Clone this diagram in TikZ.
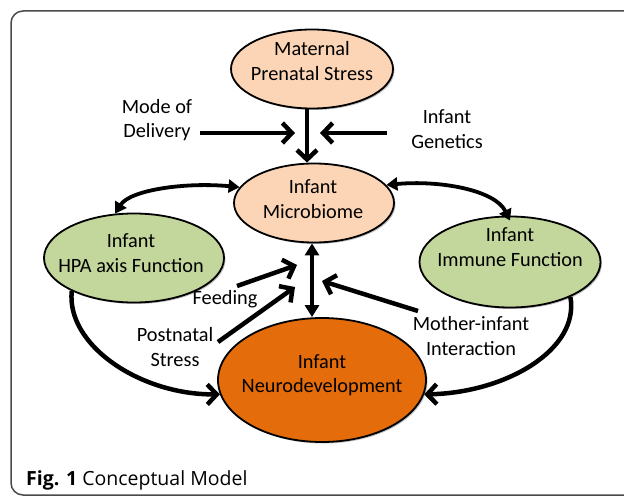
\documentclass[tikz,border=0pt]{standalone}
\usepackage{fontspec}
\setmainfont{Carlito}
\newfontfamily\capfont{Open Sans}
\usetikzlibrary{arrows.meta,shapes.geometric,shadows}
\definecolor{peach}{HTML}{FBD5B5}
\definecolor{olive}{HTML}{C3D69B}
\definecolor{orangeN}{HTML}{E46C0A}
\definecolor{framec}{HTML}{4A4A4A}
\tikzset{
  ell/.style={ellipse, draw=black, line width=1.8bp, inner sep=0pt,
    drop shadow={shadow xshift=1.5bp, shadow yshift=-1.5bp, fill=black, opacity=0.25}},
  txt/.style={font=\fontsize{20.3bp}{24.5bp}\selectfont, align=center, inner sep=1bp},
  barb/.style={line width=4.5bp, -{Straight Barb[length=9.5bp,width=20bp]}},
  tritwo/.style={line width=4bp, {Triangle[length=12bp,width=14bp]}-{Triangle[length=12bp,width=14bp]}},
  curvetwo/.style={line width=3.8bp, {Triangle[length=11bp,width=13bp]}-{Triangle[length=11bp,width=13bp]}},
}
\begin{document}
\begin{tikzpicture}[x=1bp,y=-1bp]
\useasboundingbox (0,0) rectangle (624,498);
\clip (0,0) rectangle (624,498);
% frame
\draw[framec, line width=1.5bp, rounded corners=12bp] (11,11) rectangle (660,495);
% ellipses
\node[ell, fill=peach, minimum width=162bp, minimum height=79bp] (mps) at (312,69) {};
\node[ell, fill=peach, minimum width=160bp, minimum height=79bp] (mic) at (314,203) {};
\node[ell, fill=olive, minimum width=180bp, minimum height=89bp] (hpa) at (134,258) {};
\node[ell, fill=olive, minimum width=181bp, minimum height=91bp] (imm) at (510,262) {};
\node[ell, fill=orangeN, minimum width=208bp, minimum height=124bp] (neu) at (322,380) {};
% ellipse texts
\node[txt] (mpsT) at (312,61) {Maternal\\Prenatal Stress};
\node[txt] (micT) at (313,199) {Infant\\Microbiome};
\node[txt] (hpaT) at (131,253) {Infant\\HPA axis Function};
\node[txt] (immT) at (510,247) {Infant\\Immune Function};
\node[txt] (neuT) at (322,375) {Infant\\Neurodevelopment};
% free texts
\node[txt] (mod) at (157,120) {Mode of\\Delivery};
\node[txt] (gen) at (447,129) {Infant\\Genetics};
\node[txt] (feed) at (225,299) {Feeding};
\node[txt] (post) at (175,347) {Postnatal\\Stress};
\node[txt] (moth) at (471,336) {Mother-infant\\Interaction};
% caption
\node[anchor=west, inner sep=0pt, font=\capfont\fontsize{19.5bp}{21bp}\selectfont] (cap) at (26,480) {\textbf{Fig. 1} Conceptual Model};
% free arrow ends
\coordinate (modS) at (200,133);
\coordinate (modE) at (295,133);
\coordinate (genS) at (387,133);
\coordinate (genE) at (320,133);
\coordinate (feedS) at (237,286);
\coordinate (feedE) at (297,265);
\coordinate (postS) at (218,342);
\coordinate (postE) at (295,287);
\coordinate (mothS) at (418,311);
\coordinate (mothE) at (322,281);
% arrows
\draw[barb] ([xshift=-5bp]mps.south) -- ([xshift=-5bp]mps.south |- mic.north);
\draw[barb] (modS) -- (modE);
\draw[barb] (genS) -- (genE);
\draw[tritwo] ([xshift=-2bp]mic.south) -- ([xshift=-2bp]mic.south |- neu.north);
\draw[curvetwo] (mic.168) .. controls (185,182) and (130,190) .. (hpa.113);
\draw[curvetwo] (mic.14) .. controls (440,180) and (495,190) .. ([yshift=-5bp]imm.north);
\draw[barb] (hpa.208) .. controls (66,345) and (140,395) .. (neu.188);
\draw[barb] (imm.330) .. controls (580,350) and (505,393) .. (neu.352);
\draw[barb] (feedS) -- (feedE);
\draw[barb] (postS) -- (postE);
\draw[barb] (mothS) -- (mothE);
\end{tikzpicture}
\end{document}
